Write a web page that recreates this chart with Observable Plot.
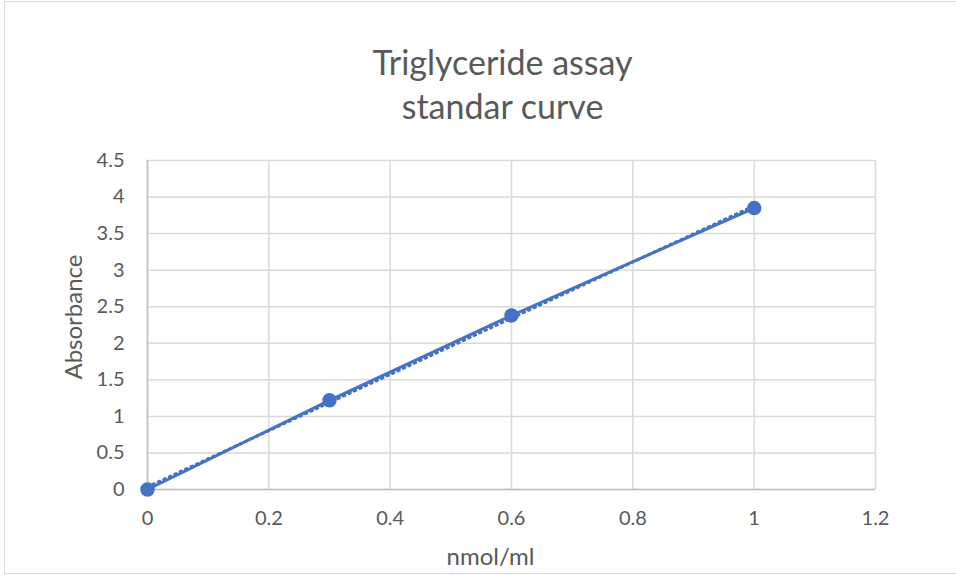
<!DOCTYPE html>
<html><head><meta charset="utf-8">
<script src="https://cdn.jsdelivr.net/npm/d3@7"></script>
<script src="https://cdn.jsdelivr.net/npm/@observablehq/plot@0.6"></script>
<style>
body{margin:0;background:#fff;}
#chart{position:relative;width:956px;height:577px;overflow:hidden;}
#frame{position:absolute;left:4px;top:1px;width:970px;height:573px;border:1.5px solid #d9d9d9;box-sizing:border-box;}
#chart svg{position:absolute;left:0;top:0;}
</style></head><body><div id="chart"><div id="frame"></div></div>
<script>
const concentration = [0, 0.3, 0.6, 1];
const absorbance = [0, 1.22, 2.38, 3.85];
const xTicks = [0, 0.2, 0.4, 0.6, 0.8, 1, 1.2];
const yTicks = [0, 0.5, 1, 1.5, 2, 2.5, 3, 3.5, 4, 4.5];
const titleLines = ["Triglyceride assay", "standar curve"];
const xLabel = "nmol/ml";
const yLabel = "Absorbance";

const data = concentration.map((x, i) => ({x, y: absorbance[i]}));
const blue = "#4472c4";
const txt = "#595959";

const plot = Plot.plot({
  width: 956, height: 577,
  marginLeft: 147, marginRight: 81, marginTop: 160, marginBottom: 88,
  style: {fontFamily: "Lato, 'Open Sans', sans-serif", fontSize: "20px", color: txt, background: "transparent"},
  x: {domain: [0, 1.2]},
  y: {domain: [0, 4.5]},
  marks: [
    Plot.gridX(xTicks, {stroke: "#d9d9d9", strokeOpacity: 1, strokeWidth: 1.5}),
    Plot.gridY(yTicks, {stroke: "#d9d9d9", strokeOpacity: 1, strokeWidth: 1.5}),
    Plot.ruleY([0], {stroke: "#bfbfbf", strokeWidth: 1.5}),
    Plot.ruleX([0], {stroke: "#bfbfbf", strokeWidth: 1.5}),
    Plot.axisX(xTicks, {tickSize: 0, tickPadding: 21, fill: txt, fontSize: 20, tickFormat: d => String(d), label: null}),
    Plot.axisY(yTicks, {tickSize: 0, tickPadding: 23, fill: txt, fontSize: 20, tickFormat: d => String(d), label: null}),
    Plot.linearRegressionY(data, {x: "x", y: "y", ci: 0, stroke: blue, strokeWidth: 3, strokeDasharray: "1.5 4.5", strokeLinecap: "round"}),
    Plot.line(data, {x: "x", y: "y", stroke: blue, strokeWidth: 3}),
    Plot.dot(data, {x: "x", y: "y", r: 6.5, fill: blue, stroke: blue}),
    Plot.text([titleLines[0]], {frameAnchor: "top", dx: -9, dy: -110, fontSize: 34, fill: txt}),
    Plot.text([titleLines[1]], {frameAnchor: "top", dx: -9, dy: -66, fontSize: 34, fill: txt}),
    Plot.text([yLabel], {frameAnchor: "left", textAnchor: "middle", dx: -73, dy: -8, rotate: -90, fontSize: 24, fill: txt}),
    Plot.text([xLabel], {frameAnchor: "bottom", lineAnchor: "middle", dx: -21, dy: 68, fontSize: 24, fill: txt})
  ]
});
document.getElementById("chart").appendChild(plot);
</script>
</body></html>
